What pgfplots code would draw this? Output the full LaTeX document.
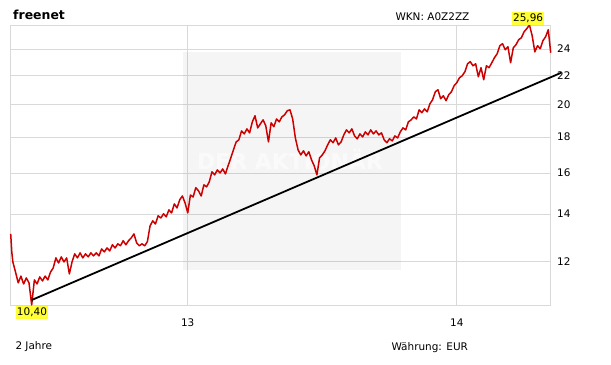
\documentclass[border=0pt]{standalone}
\usepackage{fontspec}
\setmainfont{DejaVu Sans}
\usepackage{pgfplots}
\pgfplotsset{compat=1.18}
\usepackage{pgfplotstable}
\definecolor{gridgray}{HTML}{D9D9D9}
\definecolor{pricered}{HTML}{CC0000}
\definecolor{hl}{HTML}{FFFF33}

\pgfplotstableread{
year price
12.342 13.12
12.346 12.37
12.35 11.97
12.36 11.58
12.37 11.18
12.38 11.43
12.39 11.14
12.40 11.36
12.41 11.18
12.42 10.40
12.43 11.29
12.44 11.14
12.45 11.40
12.46 11.25
12.47 11.43
12.48 11.29
12.49 11.58
12.50 11.74
12.51 12.13
12.52 11.93
12.53 12.17
12.54 11.97
12.55 12.13
12.56 11.51
12.57 11.97
12.58 12.29
12.59 12.13
12.60 12.33
12.61 12.13
12.62 12.29
12.63 12.17
12.64 12.33
12.65 12.21
12.66 12.33
12.67 12.21
12.68 12.49
12.69 12.37
12.70 12.53
12.71 12.41
12.72 12.66
12.73 12.53
12.74 12.70
12.75 12.62
12.76 12.83
12.77 12.66
12.78 12.83
12.79 12.95
12.80 13.12
12.81 12.74
12.82 12.62
12.83 12.70
12.84 12.62
12.85 12.79
12.86 13.47
12.87 13.69
12.88 13.55
12.89 13.92
12.90 13.82
12.91 14.01
12.92 13.87
12.93 14.19
12.94 14.05
12.95 14.47
12.96 14.28
12.97 14.66
12.98 14.85
12.99 14.52
13.00 14.05
13.01 14.90
13.02 14.80
13.03 15.26
13.04 15.10
13.05 14.85
13.06 15.40
13.07 15.30
13.08 15.55
13.09 16.07
13.10 15.91
13.11 16.17
13.12 16.01
13.13 16.22
13.14 15.96
13.15 16.39
13.16 16.82
13.17 17.27
13.18 17.72
13.19 17.84
13.20 18.37
13.21 18.19
13.22 18.49
13.23 18.25
13.24 18.92
13.25 19.30
13.26 18.55
13.27 18.80
13.28 19.04
13.29 18.68
13.30 17.72
13.31 18.86
13.32 18.62
13.33 19.10
13.34 18.92
13.35 19.23
13.36 19.36
13.37 19.62
13.38 19.68
13.39 19.10
13.40 17.95
13.41 17.27
13.42 16.98
13.43 17.21
13.44 16.93
13.45 17.16
13.46 16.71
13.47 16.39
13.48 15.91
13.49 16.82
13.50 16.98
13.51 17.21
13.52 17.55
13.53 17.84
13.54 17.67
13.55 17.95
13.56 17.55
13.57 17.72
13.58 18.13
13.59 18.43
13.60 18.25
13.61 18.49
13.62 18.07
13.63 17.90
13.64 18.19
13.65 18.01
13.66 18.31
13.67 18.13
13.68 18.43
13.69 18.19
13.70 18.37
13.71 18.13
13.72 18.25
13.73 17.84
13.74 17.67
13.75 17.90
13.76 17.78
13.77 18.07
13.78 17.95
13.79 18.31
13.80 18.55
13.81 18.43
13.82 18.92
13.83 19.04
13.84 19.23
13.85 19.10
13.86 19.68
13.87 19.49
13.88 19.74
13.89 19.55
13.90 20.07
13.91 20.33
13.92 20.87
13.93 21.01
13.94 20.40
13.95 20.60
13.96 20.27
13.97 20.67
13.98 20.87
13.99 21.29
14.00 21.50
14.01 21.85
14.02 21.99
14.03 22.28
14.04 22.87
14.05 23.03
14.06 22.72
14.07 22.87
14.08 21.92
14.09 22.58
14.10 21.71
14.11 22.72
14.12 22.58
14.13 22.95
14.14 23.33
14.15 23.63
14.16 24.26
14.17 24.42
14.18 23.94
14.19 24.18
14.20 22.95
14.21 24.10
14.22 24.34
14.23 24.74
14.24 24.90
14.25 25.39
14.26 25.65
14.27 25.96
14.28 25.07
14.29 23.78
14.30 24.26
14.31 24.02
14.32 24.66
14.33 24.98
14.34 25.56
14.345 24.50
14.349 23.71
}\pricedata

\begin{document}
\begin{tikzpicture}[x=1bp,y=1bp]
\path[use as bounding box] (-10.7,-59) rectangle (600.3,305);
\begin{axis}[at={(0,0)}, anchor=south west, scale only axis,
  width=540bp, height=280bp,
  xmin=12.342, xmax=14.349,
  ymode=log, ymin=10.40, ymax=25.96,
  xtick={13,14}, xticklabels={13,14},
  ytick={12,14,16,18,20,22,24}, yticklabels={12,14,16,18,20,22,24},
  yticklabel pos=right,
  major tick length=0pt,
  grid=major, grid style={gridgray, line width=0.8bp},
  axis line style={gridgray, line width=0.8bp},
  tick label style={font=\fontsize{10.5}{12}\selectfont, black},
  yticklabel style={anchor=west, xshift=3bp},
  xticklabel style={yshift=-10bp},
  /pgf/number format/assume math mode=true,
  clip=false,
]
\fill[black, fill opacity=0.04] (axis cs:12.983,11.66) rectangle (axis cs:13.793,23.79);
\node[white, opacity=0.55, font=\bfseries\fontsize{22}{22}\selectfont] at (axis cs:13.38,16.71) {DER AKTIONÄR};
\addplot[pricered, line width=1.5bp, line join=round] table {\pricedata};
\addplot[black, line width=1.8bp] coordinates {(12.420,10.57) (14.388,22.21)};
\node[fill=hl, inner xsep=1bp, inner ysep=2bp, anchor=south, font=\fontsize{10.5}{12}\selectfont] at (axis cs:14.265,25.96) {25,96};
\node[fill=hl, inner xsep=1bp, inner ysep=2bp, anchor=north, yshift=-1bp, font=\fontsize{10.5}{12}\selectfont] at (axis cs:12.421,10.40) {10,40};
\end{axis}
\node[anchor=west, font=\bfseries\fontsize{12.5}{14}\selectfont] at (-1,290) {freenet};
\node[anchor=west, font=\fontsize{10.5}{12}\selectfont] at (381.3,288) {WKN: A0Z2ZZ};
\node[anchor=west, font=\fontsize{10.5}{12}\selectfont] at (1.3,-42) {2 Jahre};
\node[anchor=west, font=\fontsize{10.5}{12}\selectfont] at (377.3,-43) {Währung: EUR};
\end{tikzpicture}
\end{document}
